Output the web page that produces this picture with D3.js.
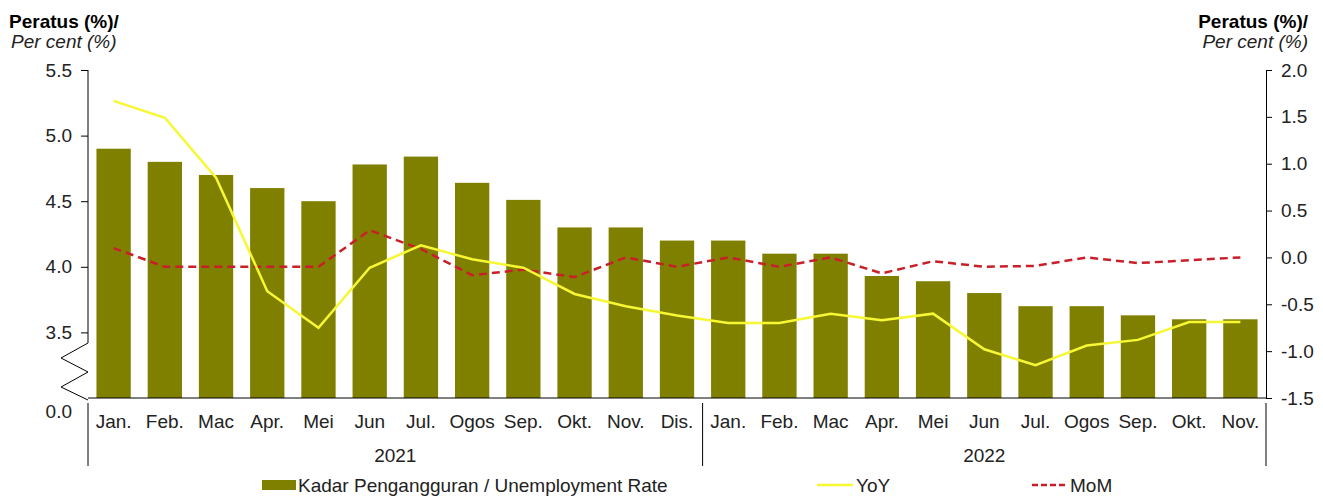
<!DOCTYPE html>
<html>
<head>
<meta charset="utf-8">
<script src="https://cdn.jsdelivr.net/npm/d3@7"></script>
<style>
  html, body { margin: 0; padding: 0; background: #fff; }
  svg { display: block; font-family: "Liberation Sans", Arial, sans-serif; }
</style>
</head>
<body>
<svg id="chart" width="1323" height="496"></svg>
<script>
// DATA
const months = ["Jan.", "Feb.", "Mac", "Apr.", "Mei", "Jun", "Jul.", "Ogos", "Sep.", "Okt.", "Nov.", "Dis.",
                "Jan.", "Feb.", "Mac", "Apr.", "Mei", "Jun", "Jul.", "Ogos", "Sep.", "Okt.", "Nov."];
const years = [{label: "2021", count: 12}, {label: "2022", count: 11}];
const rate = [4.9, 4.8, 4.7, 4.6, 4.5, 4.78, 4.84, 4.64, 4.51, 4.3, 4.3, 4.2,
              4.2, 4.1, 4.1, 3.93, 3.89, 3.8, 3.7, 3.7, 3.63, 3.6, 3.6];
const yoy = [1.67, 1.49, 0.85, -0.36, -0.75, -0.11, 0.13, -0.02, -0.11, -0.39, -0.52, -0.62,
             -0.70, -0.70, -0.60, -0.67, -0.60, -0.98, -1.15, -0.94, -0.88, -0.69, -0.69];
const mom = [0.10, -0.10, -0.10, -0.10, -0.10, 0.29, 0.09, -0.19, -0.13, -0.21, 0.0, -0.10,
             0.0, -0.10, 0.0, -0.17, -0.04, -0.10, -0.09, 0.0, -0.06, -0.03, 0.0];
const leftTicks = [3.5, 4.0, 4.5, 5.0, 5.5];
const rightTicks = [-1.5, -1.0, -0.5, 0.0, 0.5, 1.0, 1.5, 2.0];
const axisTitle = ["Peratus (%)/", "Per cent (%)"];
const legendLabels = ["Kadar Pengangguran / Unemployment Rate", "YoY", "MoM"];

// COLOURS
const barColor = "#808000";
const yoyColor = "#f7f733";
const momColor = "#c8202a";
const textColor = "#222";

// LAYOUT
const plotLeft = 88, plotRight = 1266, plotTop = 70, plotBottom = 398;
const fontSize = 19;

const svg = d3.select("#chart");

const x = d3.scaleBand()
    .domain(d3.range(months.length))
    .range([plotLeft, plotRight])
    .paddingInner(0.33)
    .paddingOuter(0.165);

const yL = d3.scaleLinear().domain([3.0, 5.5]).range([plotBottom, plotTop]);
const yR = d3.scaleLinear().domain([-1.5, 2.0]).range([plotBottom, plotTop]);
const cx = i => x(i) + x.bandwidth() / 2;

// bars
svg.append("g")
    .selectAll("rect")
    .data(rate)
    .join("rect")
    .attr("x", (d, i) => x(i))
    .attr("y", d => yL(d))
    .attr("width", x.bandwidth())
    .attr("height", d => yL(3.0) - yL(d))
    .attr("fill", barColor);

// lines
const line = d3.line().x((d, i) => cx(i)).y(d => yR(d));

svg.append("path")
    .datum(mom)
    .attr("d", line)
    .attr("fill", "none")
    .attr("stroke", momColor)
    .attr("stroke-width", 2.5)
    .attr("stroke-dasharray", "8,5");

svg.append("path")
    .datum(yoy)
    .attr("d", line)
    .attr("fill", "none")
    .attr("stroke", yoyColor)
    .attr("stroke-width", 2.5);

// left axis (broken)
const leftAxis = d3.axisLeft(yL)
    .tickValues(leftTicks)
    .tickFormat(d3.format(".1f"))
    .tickSize(7)
    .tickSizeOuter(0)
    .tickPadding(9);

const gL = svg.append("g")
    .attr("transform", `translate(${plotLeft},0)`)
    .call(leftAxis);
gL.select(".domain").remove();
gL.selectAll("text").attr("font-size", fontSize).attr("fill", textColor).attr("font-family", null);
gL.selectAll("line").attr("stroke", "#000");

svg.append("path")
    .attr("d", d3.line()([[plotLeft, plotTop], [plotLeft, 343], [plotLeft - 27, 358], [plotLeft, 372],
                          [plotLeft - 27, 387], [plotLeft, 400]]))
    .attr("fill", "none")
    .attr("stroke", "#000")
    .attr("stroke-width", 1);

svg.append("text")
    .attr("x", plotLeft - 16)
    .attr("y", plotBottom + 14)
    .attr("dy", "0.32em")
    .attr("text-anchor", "end")
    .attr("font-size", fontSize)
    .attr("fill", textColor)
    .text("0.0");

// right axis
const rightAxis = d3.axisRight(yR)
    .tickValues(rightTicks)
    .tickFormat(d => d3.format(".1f")(d).replace("−", "-"))
    .tickSize(6)
    .tickSizeOuter(0)
    .tickPadding(9);

const gR = svg.append("g")
    .attr("transform", `translate(${plotRight},0)`)
    .call(rightAxis);
gR.selectAll("text").attr("font-size", fontSize).attr("fill", textColor).attr("font-family", null);
gR.selectAll("line, path").attr("stroke", "#000");

// baseline
svg.append("line")
    .attr("x1", plotLeft).attr("x2", plotRight)
    .attr("y1", plotBottom).attr("y2", plotBottom)
    .attr("stroke", "#000");

// category labels
svg.append("g")
    .selectAll("text")
    .data(months)
    .join("text")
    .attr("x", (d, i) => cx(i))
    .attr("y", 428)
    .attr("text-anchor", "middle")
    .attr("font-size", fontSize)
    .attr("fill", textColor)
    .text(d => d);

// year groups and dividers
let start = 0;
const dividers = [plotLeft];
years.forEach(yr => {
    const x0 = x(start) - (x.step() - x.bandwidth()) / 2;
    const x1 = x0 + x.step() * yr.count;
    svg.append("text")
        .attr("x", (x0 + x1) / 2)
        .attr("y", 462)
        .attr("text-anchor", "middle")
        .attr("font-size", fontSize)
        .attr("fill", textColor)
        .text(yr.label);
    dividers.push(x1);
    start += yr.count;
});
svg.append("g")
    .selectAll("line")
    .data(dividers)
    .join("line")
    .attr("x1", d => d).attr("x2", d => d)
    .attr("y1", 403).attr("y2", 466)
    .attr("stroke", "#000");

// axis titles
[[9, "start"], [1308, "end"]].forEach(([tx, anchor]) => {
    svg.append("text")
        .attr("x", tx).attr("y", 28)
        .attr("text-anchor", anchor)
        .attr("font-size", fontSize)
        .attr("font-weight", "bold")
        .attr("fill", "#000")
        .text(axisTitle[0]);
    svg.append("text")
        .attr("x", tx + (anchor === "start" ? 2 : 0)).attr("y", 48)
        .attr("text-anchor", anchor)
        .attr("font-size", fontSize)
        .attr("font-style", "italic")
        .attr("fill", textColor)
        .text(axisTitle[1]);
});

// legend
const legendY = 485;
const lg = svg.append("g");
lg.append("rect")
    .attr("x", 262).attr("y", legendY - 5)
    .attr("width", 34).attr("height", 10)
    .attr("fill", barColor);
lg.append("text")
    .attr("x", 298).attr("y", legendY).attr("dy", "0.35em")
    .attr("font-size", fontSize).attr("fill", textColor)
    .text(legendLabels[0]);

lg.append("line")
    .attr("x1", 817).attr("x2", 853)
    .attr("y1", legendY).attr("y2", legendY)
    .attr("stroke", yoyColor).attr("stroke-width", 2.5);
lg.append("text")
    .attr("x", 856).attr("y", legendY).attr("dy", "0.35em")
    .attr("font-size", fontSize).attr("fill", textColor)
    .text(legendLabels[1]);

lg.append("line")
    .attr("x1", 1032).attr("x2", 1067)
    .attr("y1", legendY).attr("y2", legendY)
    .attr("stroke", momColor).attr("stroke-width", 2.5)
    .attr("stroke-dasharray", "6,3");
lg.append("text")
    .attr("x", 1070).attr("y", legendY).attr("dy", "0.35em")
    .attr("font-size", fontSize).attr("fill", textColor)
    .text(legendLabels[2]);
</script>
</body>
</html>
